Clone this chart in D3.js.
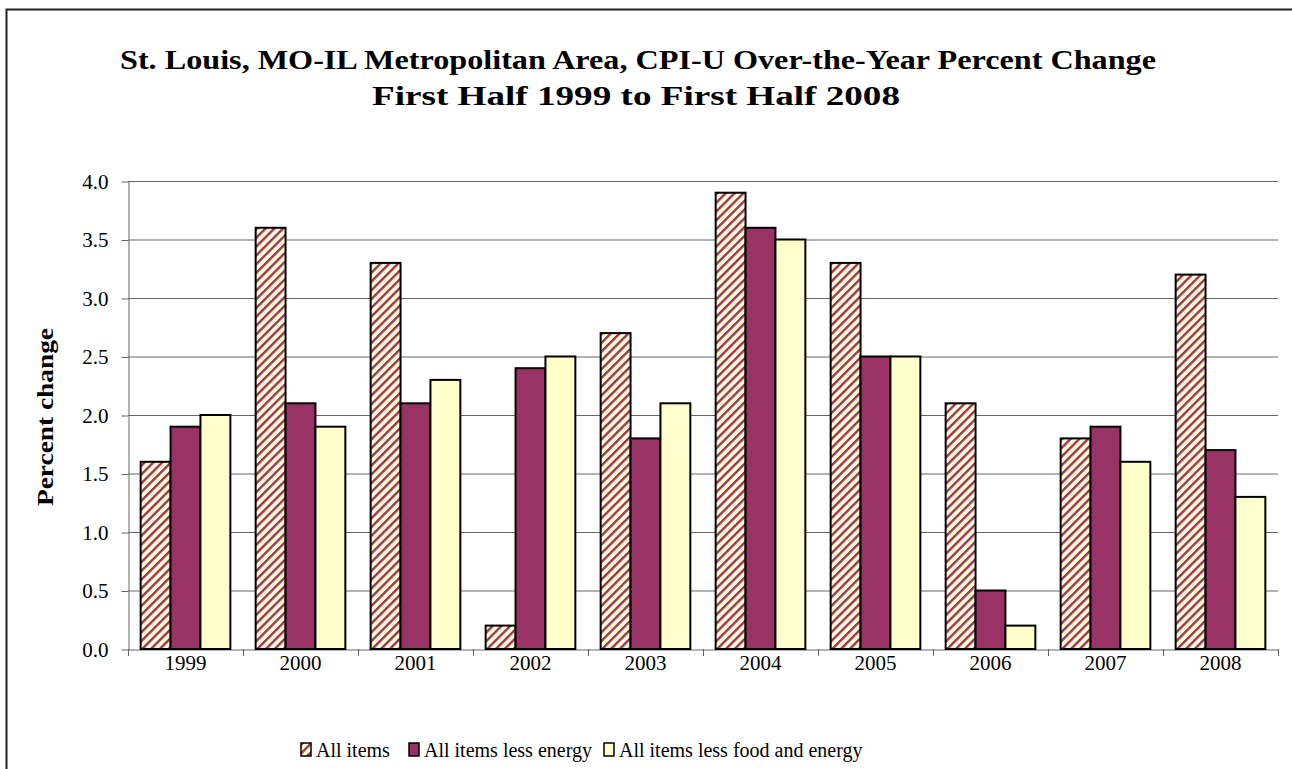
<!DOCTYPE html>
<html>
<head>
<meta charset="utf-8">
<script src="https://cdn.jsdelivr.net/npm/d3@7"></script>
<style>
  body { margin: 0; background: #fff; }
  svg { display: block; }
</style>
</head>
<body>
<div id="chart"></div>
<script>
const years = ["1999", "2000", "2001", "2002", "2003", "2004", "2005", "2006", "2007", "2008"];
const allItems = [1.6, 3.6, 3.3, 0.2, 2.7, 3.9, 3.3, 2.1, 1.8, 3.2];
const lessEnergy = [1.9, 2.1, 2.1, 2.4, 1.8, 3.6, 2.5, 0.5, 1.9, 1.7];
const lessFoodEnergy = [2.0, 1.9, 2.3, 2.5, 2.1, 3.5, 2.5, 0.2, 1.6, 1.3];
const seriesNames = ["All items", "All items less energy", "All items less food and energy"];
const yTicks = [0, 0.5, 1, 1.5, 2, 2.5, 3, 3.5, 4];

const width = 1292, height = 769;
const margin = { top: 181, right: 14, bottom: 120, left: 128 };
const font = "'Liberation Serif', 'Times New Roman', serif";

const svg = d3.select("#chart").append("svg")
  .attr("width", width)
  .attr("height", height)
  .attr("font-family", font);

const defs = svg.append("defs");
const pat = defs.append("pattern")
  .attr("id", "hatch")
  .attr("patternUnits", "userSpaceOnUse")
  .attr("width", 6.2)
  .attr("height", 6.2)
  .attr("patternTransform", "rotate(45)");
pat.append("rect").attr("width", 6.2).attr("height", 6.2).attr("fill", "#ffffcc");
pat.append("rect").attr("width", 2.4).attr("height", 6.2).attr("fill", "#993366");

// outer frame
svg.append("rect")
  .attr("x", 6.5).attr("y", 9.5)
  .attr("width", 1400).attr("height", 900)
  .attr("fill", "none")
  .attr("stroke", "#222")
  .attr("stroke-width", 2);

svg.append("text")
  .attr("x", 638).attr("y", 69)
  .attr("text-anchor", "middle")
  .attr("font-size", 27).attr("font-weight", "bold")
  .attr("textLength", 1036).attr("lengthAdjust", "spacingAndGlyphs")
  .text("St. Louis, MO-IL Metropolitan Area, CPI-U Over-the-Year Percent Change");
svg.append("text")
  .attr("x", 636).attr("y", 105)
  .attr("text-anchor", "middle")
  .attr("font-size", 27).attr("font-weight", "bold")
  .attr("textLength", 528).attr("lengthAdjust", "spacingAndGlyphs")
  .text("First Half 1999 to First Half 2008");

const x0 = d3.scaleBand()
  .domain(years)
  .range([margin.left, width - margin.right])
  .paddingInner(0.22)
  .paddingOuter(0.11);

const x = d3.scaleBand()
  .domain(seriesNames)
  .range([0, x0.bandwidth()]);

const y = d3.scaleLinear()
  .domain([0, 4])
  .range([height - margin.bottom, margin.top]);

const color = ["url(#hatch)", "#993366", "#ffffcc"];

// gridlines
svg.append("g")
  .selectAll("line")
  .data(yTicks.filter(d => d > 0))
  .join("line")
  .attr("x1", margin.left).attr("x2", width - margin.right)
  .attr("y1", d => y(d) + 0.5).attr("y2", d => y(d) + 0.5)
  .attr("stroke", "#666");

// y axis
const yAxis = svg.append("g")
  .attr("transform", `translate(${margin.left + 0.5},0.5)`)
  .call(d3.axisLeft(y).tickValues(yTicks).tickFormat(d3.format(".1f")).tickSize(7).tickSizeOuter(0).tickPadding(13));
yAxis.select(".domain").attr("stroke", "#666");
yAxis.selectAll(".tick line").attr("stroke", "#666");
yAxis.selectAll("text").attr("font-size", 21).attr("font-family", font).attr("fill", "#000");

// x axis
const xAxis = svg.append("g")
  .attr("transform", `translate(0,${height - margin.bottom + 0.5})`)
  .call(d3.axisBottom(x0).tickSize(0).tickPadding(6));
xAxis.select(".domain").attr("stroke", "#666");
xAxis.selectAll("text").attr("font-size", 21).attr("font-family", font).attr("fill", "#000");
// category boundary ticks
const step = x0.step();
svg.append("g")
  .selectAll("line")
  .data(d3.range(years.length + 1))
  .join("line")
  .attr("x1", i => Math.round(margin.left + i * step) + 0.5)
  .attr("x2", i => Math.round(margin.left + i * step) + 0.5)
  .attr("y1", height - margin.bottom)
  .attr("y2", height - margin.bottom + 7)
  .attr("stroke", "#666");

// bars
const table = years.map((yr, i) => ({ year: yr, values: [allItems[i], lessEnergy[i], lessFoodEnergy[i]] }));
svg.append("g")
  .selectAll("g")
  .data(table)
  .join("g")
  .attr("transform", d => `translate(${x0(d.year)},0)`)
  .selectAll("rect")
  .data(d => d.values.map((v, j) => ({ v, j })))
  .join("rect")
  .attr("x", d => x(seriesNames[d.j]))
  .attr("y", d => y(d.v))
  .attr("width", x.bandwidth())
  .attr("height", d => y(0) - y(d.v))
  .attr("fill", d => color[d.j])
  .attr("stroke", "#000")
  .attr("stroke-width", 2);

// y label
svg.append("text")
  .attr("transform", "translate(53,417) rotate(-90)")
  .attr("text-anchor", "middle")
  .attr("font-size", 23).attr("font-weight", "bold")
  .attr("textLength", 178).attr("lengthAdjust", "spacingAndGlyphs")
  .text("Percent change");

// legend
const legendX = [301, 409, 604];
const legend = svg.append("g")
  .selectAll("g")
  .data(seriesNames)
  .join("g")
  .attr("transform", (d, i) => `translate(${legendX[i]},743)`);
legend.append("rect")
  .attr("width", 10).attr("height", 13)
  .attr("fill", (d, i) => color[i])
  .attr("stroke", "#000")
  .attr("stroke-width", 1.5);
legend.append("text")
  .attr("x", 15).attr("y", 14)
  .attr("font-size", 20)
  .text(d => d);
</script>
</body>
</html>
